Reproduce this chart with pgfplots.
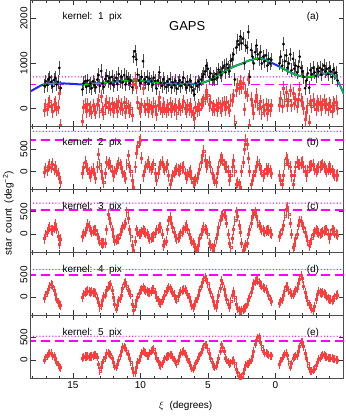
\documentclass[border=0pt]{standalone}
\usepackage{fontspec}
\setmainfont{Liberation Sans}
\usepackage{pgfplots}
\pgfplotsset{compat=1.18}
\usepackage{pgfplotstable}
\usetikzlibrary{calc}

\definecolor{resred}{RGB}{255,60,60}
\definecolor{fitblue}{RGB}{30,40,255}
\definecolor{fitgreen}{RGB}{0,215,0}
\definecolor{limmag}{RGB}{255,0,255}

% xi, black counts (k), residual (r), smoothed residuals for kernels 2..5 (b..e)
\pgfplotstableread{
x k r b c d e
17.1 500 -40 -20 -100 -20 0
17.0 600 60 60 -20 40 50
16.9 520 -20 20 50 100 100
16.8 640 100 110 120 170 140
16.7 690 150 140 160 240 160
16.6 590 40 90 100 290 150
16.5 490 -60 160 80 250 100
16.4 630 80 40 150 150 80
16.3 680 120 100 220 60 40
16.2 530 -30 10 120 -40 -40
16.1 590 30 -60 -40 -110 -100
16.0 900 340 -150 -220 -160 -150
15.9 450 -380 -240 -120 -190 -170
14.3 420 -280 -50 -50 0 40
14.2 560 30 80 0 60 60
14.1 600 70 200 50 100 80
14.0 480 -60 120 120 130 80
13.9 620 80 50 230 140 90
13.8 500 -40 -40 180 120 70
13.7 550 10 -100 90 110 80
13.6 450 -90 -20 50 120 80
13.5 600 60 50 70 110 100
13.4 520 -30 -60 100 100 110
13.3 470 -80 -150 80 80 120
13.2 640 90 100 0 -20 60
13.1 740 180 380 -100 -120 -100
13.0 500 -60 150 -150 -220 -240
12.9 830 260 0 -200 -180 -170
12.8 560 -10 -150 -210 -60 -60
12.7 480 -100 -250 -200 20 0
12.6 650 70 -50 -200 50 60
12.5 720 140 200 100 150 160
12.4 600 20 150 450 230 150
12.3 680 100 180 350 270 130
12.2 560 -30 120 250 290 120
12.1 700 110 0 100 150 30
12.0 520 -70 -100 -50 0 -60
11.9 610 20 -20 -150 -150 -140
11.8 680 80 50 -130 -260 -160
11.7 540 -60 120 -110 -180 -100
11.6 760 150 180 -100 -80 0
11.5 600 0 150 0 -20 100
11.4 700 90 100 100 50 200
11.3 580 -30 -20 150 200 280
11.2 740 130 -100 200 300 300
11.1 530 -80 -150 250 330 260
11.0 700 90 150 500 250 200
10.9 650 30 350 350 150 120
10.8 560 -60 100 100 100 50
10.7 620 0 0 -50 50 -50
10.6 470 -150 -200 -250 -150 -180
10.5 1150 530 -350 -350 -300 -280
10.4 1270 650 100 -150 -200 -280
10.3 1090 470 400 100 -80 -150
10.2 750 130 550 50 0 -50
10.1 620 0 650 0 80 0
10.0 560 -60 700 0 140 80
9.9 700 90 300 50 180 150
9.8 1050 440 -100 100 210 200
9.7 650 40 0 60 180 180
9.6 580 -20 100 20 150 150
9.5 700 100 150 0 120 100
9.4 540 -60 200 -50 110 100
9.3 660 60 100 -100 100 150
9.2 600 10 50 -80 130 200
9.1 520 -70 100 -60 160 230
9.0 680 100 150 -50 170 240
8.9 610 40 -50 30 100 150
8.8 440 -130 -200 100 0 50
8.7 620 60 -50 120 -70 -20
8.6 800 240 100 150 -120 -100
8.5 570 10 150 150 -140 -120
8.4 500 -60 200 0 -80 -80
8.3 650 100 100 -250 -20 -20
8.2 560 10 50 -200 50 30
8.1 480 -70 100 -150 120 70
8.0 600 60 150 100 180 80
7.9 520 -20 -100 300 210 100
7.8 650 110 -300 380 200 120
7.7 470 -70 -200 250 150 120
7.6 580 40 -100 150 100 60
7.5 520 -20 -30 50 50 0
7.4 610 70 20 -50 -20 -50
7.3 440 -100 50 -100 -60 -80
7.2 560 30 30 -80 20 0
7.1 620 90 0 -50 80 80
7.0 500 -30 50 0 130 150
6.9 580 50 80 50 140 180
6.8 680 150 100 100 160 200
6.7 530 0 -50 150 170 130
6.6 460 -70 -150 200 130 80
6.5 590 60 -80 120 60 20
6.4 520 -10 -30 0 0 -50
6.3 620 90 0 -100 -100 -120
6.2 470 -60 -150 -150 -180 -180
6.1 400 -130 -250 -200 -220 -200
6.0 310 -220 -230 -250 -180 -150
5.9 560 20 -200 -300 -100 -80
5.8 500 -40 -150 -350 -20 0
5.7 600 60 -50 -250 50 60
5.6 540 -10 50 -100 150 100
5.5 640 90 200 0 250 180
5.4 700 130 350 100 330 240
5.3 760 180 450 150 400 300
5.2 820 220 250 120 445 340
5.1 950 400 100 100 400 330
5.0 880 280 150 0 300 250
4.9 700 80 200 -200 180 150
4.8 780 140 100 -250 100 50
4.7 640 -10 -50 -300 0 -50
4.6 700 40 -150 -350 -100 -130
4.5 650 -30 -200 -250 -180 -160
4.4 760 60 -250 -100 -220 -140
4.3 680 -40 -50 0 -100 -50
4.2 860 110 100 150 50 50
4.1 800 30 250 300 200 200
4.0 740 -40 300 400 370 340
3.9 900 100 250 420 300 280
3.8 950 130 150 450 180 200
3.7 800 -30 100 400 50 50
3.6 980 130 100 250 -50 0
3.5 900 30 0 0 -150 -50
3.4 830 -50 -200 -200 -220 -80
3.3 1060 170 -100 -300 -100 -60
3.2 1100 190 100 -100 50 -20
3.1 1200 280 250 100 130 0
3.0 640 -300 0 300 0 -80
2.9 1350 400 -300 500 -150 -200
2.8 1500 530 -250 400 -250 -280
2.7 1420 440 -300 200 -300 -350
2.6 1600 600 -350 50 -335 -400
2.5 1450 460 0 -200 -300 -380
2.4 1550 550 200 -350 -280 -300
2.3 1000 -20 500 -300 -250 -200
2.2 1400 360 700 -250 -220 -120
2.1 1350 300 600 -200 -150 -80
2.0 1700 640 300 0 -50 -80
1.9 700 -380 0 100 0 -40
1.8 1300 210 -300 250 100 0
1.7 1150 60 -200 400 200 80
1.6 1000 -100 -100 450 300 200
1.5 1250 150 0 500 350 350
1.4 1400 300 100 400 400 450
1.3 1200 100 200 250 380 500
1.2 1100 0 150 200 330 520
1.1 1250 150 50 150 280 400
1.0 1000 -100 0 100 250 300
0.9 1150 50 -100 80 220 200
0.8 1050 -50 -50 50 190 160
0.7 1180 90 50 70 170 150
0.6 950 -120 0 100 100 130
0.5 1100 60 50 80 30 110
0.4 1000 -40 0 40 -50 100
0.3 1080 60 -50 0 -100 100
-0.3 1000 70 -100 -50 -140 -100
-0.4 1150 230 -200 0 -100 -30
-0.5 950 50 -300 100 -50 50
-0.6 1430 450 -100 200 50 100
-0.7 1050 180 150 400 150 130
-0.8 1180 350 300 550 240 150
-0.9 900 70 250 600 230 100
-1.0 1000 190 150 450 150 -50
-1.1 1200 400 100 250 100 -150
-1.2 850 60 -100 0 60 -80
-1.3 1100 330 -300 -300 50 50
-1.4 880 120 -100 -250 100 60
-1.5 950 200 100 -100 150 90
-1.6 800 50 200 0 200 100
-1.7 930 200 150 200 300 200
-1.8 1150 430 150 300 400 300
-1.9 900 190 180 280 480 400
-2.0 820 120 200 200 420 400
-2.1 700 10 100 150 250 300
-2.2 450 -250 0 50 100 150
-2.3 620 -80 -100 -50 0 50
-2.4 780 80 0 -150 -100 -80
-2.5 460 -300 100 -250 -170 -180
-2.6 850 150 120 -200 -200 -250
-2.7 760 50 130 -100 -260 -250
-2.8 900 190 150 0 -300 -220
-2.9 800 90 50 50 -200 -200
-3.0 720 -10 0 100 -50 -120
-3.1 880 150 50 60 60 -40
-3.2 820 80 100 20 130 20
-3.3 900 140 100 0 100 50
-3.4 750 -30 130 20 80 90
-3.5 860 90 150 50 100 120
-3.6 950 170 100 70 90 110
-3.7 820 30 50 90 50 80
-3.8 880 90 0 100 20 60
-3.9 760 -30 50 0 -20 50
-4.0 900 110 100 -100 -50 40
-4.1 820 50 50 0 -60 40
-4.2 700 -60 0 100 -80 40
-4.3 860 120 -50 80 -60 30
-4.4 780 80 -80 40 0 20
-4.5 800 140 -100 0 30 10
-4.6 620 10 -80 -20 50 0
}\gapsdata

% smooth model: blue over the whole range, green only where there are data
\pgfplotstableread{
x bl gr
18.1 384 nan
17.6 470 nan
17.2 530 530
16.8 548 548
16.4 556 556
16.0 558 558
15.9 558 558
15.5 552 nan
15.0 545 nan
14.6 536 nan
14.3 533 533
14.0 535 535
13.5 546 546
13.0 560 560
12.5 575 575
12.0 590 590
11.5 605 605
11.0 615 615
10.5 620 620
10.0 615 615
9.5 602 602
9.0 585 585
8.5 568 568
8.0 555 555
7.5 548 548
7.0 545 545
6.5 545 545
6.0 548 548
5.5 560 560
5.0 610 610
4.5 685 685
4.0 775 775
3.5 865 865
3.0 940 940
2.5 995 995
2.0 1060 1060
1.5 1100 1100
1.2 1110 1110
0.8 1085 1085
0.3 1015 1015
0.0 975 nan
-0.3 930 930
-0.6 880 880
-0.9 830 830
-1.2 788 788
-1.5 752 752
-1.8 722 722
-2.2 698 698
-2.6 702 702
-2.9 715 715
-3.2 740 740
-3.5 768 768
-3.8 786 786
-4.0 790 790
-4.2 770 770
-4.4 720 720
-4.6 620 620
-4.8 500 500
-5.1 300 300
}\fitdata

\tikzset{lab/.style={font=\fontsize{10}{12}\selectfont}}
\pgfplotsset{
  panel/.style={
    width=313pt, scale only axis,
    x dir=reverse, xmin=-5.05, xmax=18.1,
    xtick={0,5,10,15},
    minor xtick={-5,-4,...,18},
    tick align=inside,
    major tick length=5pt, minor tick length=2.5pt,
    axis line style={line width=1pt, black!70},
    every tick/.style={black!80, line width=0.6pt},
    yticklabel style={rotate=90, anchor=south},
    scaled y ticks=false,
    /pgf/number format/1000 sep={},
    /pgf/number format/assume math mode=true,
    tick label style={font=\fontsize{10}{12}\selectfont},
    unbounded coords=jump,
  },
  respts/.style={only marks, mark=square, mark size=1pt, resred,
    mark options={line width=0.6pt},
    error bars/y dir=both, error bars/y fixed=#1,
    error bars/error mark=none,
    error bars/error bar style={resred, line width=0.8pt}},
  dotlim/.style={draw=limmag, color=limmag, line width=1.4pt, line cap=round,
    dash pattern=on 0pt off 3.2pt, forget plot},
  dashlim/.style={draw=limmag, color=limmag, line width=1.4pt,
    dash pattern=on 9pt off 5pt, forget plot},
}

\begin{document}
\begin{tikzpicture}
\begin{axis}[panel, name=pa, height=126pt, ymin=-400, ymax=2400,
  ytick={0,1000,2000}, xticklabels={}]
  \addplot[dotlim] coordinates {(-5.05,700) (18.1,700)};
  \addplot[dashlim] coordinates {(-5.05,530) (18.1,530)};
  \addplot[respts=150] table[x=x, y=r] {\gapsdata};
  \addplot[only marks, mark=*, mark size=1.2pt, black,
    error bars/y dir=both, error bars/y fixed=150,
    error bars/error mark=none,
    error bars/error bar style={black!70, line width=0.8pt}]
    table[x=x, y=k] {\gapsdata};
  \addplot[fitblue, line width=2pt, smooth] table[x=x, y=bl] {\fitdata};
  \addplot[fitgreen, line width=1.3pt, smooth] table[x=x, y=gr] {\fitdata};
  \node[lab] at (axis description cs:0.196,0.871) {kernel:\ \ 1\ \ pix};
  \node[font=\fontsize{13}{15}\selectfont] at (axis description cs:0.5,0.80) {GAPS};
  \node[lab] at (axis description cs:0.902,0.868) {(a)};
\end{axis}
\begin{axis}[panel, name=pb, at={(pa.south west)}, anchor=north west,
  height=63pt, ymin=-400, ymax=1000, ytick={0,500}, xticklabels={}]
  \addplot[dotlim] coordinates {(-5.05,890) (18.1,890)};
  \addplot[dashlim] coordinates {(-5.05,698) (18.1,698)};
  \addplot[respts=130] table[x=x, y=b] {\gapsdata};
  \node[lab] at (axis description cs:0.196,0.73) {kernel:\ \ 2\ \ pix};
  \node[lab] at (axis description cs:0.902,0.73) {(b)};
\end{axis}
\begin{axis}[panel, name=pc, at={(pb.south west)}, anchor=north west,
  height=63pt, ymin=-400, ymax=1000, ytick={0,500}, xticklabels={}]
  \addplot[dotlim] coordinates {(-5.05,692) (18.1,692)};
  \addplot[dashlim] coordinates {(-5.05,536) (18.1,536)};
  \addplot[respts=115] table[x=x, y=c] {\gapsdata};
  \node[lab] at (axis description cs:0.196,0.72) {kernel:\ \ 3\ \ pix};
  \node[lab] at (axis description cs:0.902,0.72) {(c)};
\end{axis}
\begin{axis}[panel, name=pd, at={(pc.south west)}, anchor=north west,
  height=63pt, ymin=-400, ymax=1000, ytick={0,500}, xticklabels={}]
  \addplot[dotlim] coordinates {(-5.05,614) (18.1,614)};
  \addplot[dashlim] coordinates {(-5.05,491) (18.1,491)};
  \addplot[respts=100] table[x=x, y=d] {\gapsdata};
  \node[lab] at (axis description cs:0.196,0.72) {kernel:\ \ 4\ \ pix};
  \node[lab] at (axis description cs:0.902,0.72) {(d)};
\end{axis}
\begin{axis}[panel, name=pe, at={(pd.south west)}, anchor=north west,
  height=63pt, ymin=-400, ymax=1000, ytick={0,500}]
  \addplot[dotlim] coordinates {(-5.05,531) (18.1,531)};
  \addplot[dashlim] coordinates {(-5.05,426) (18.1,426)};
  \addplot[respts=90] table[x=x, y=e] {\gapsdata};
  \node[lab] at (axis description cs:0.196,0.72) {kernel:\ \ 5\ \ pix};
  \node[lab] at (axis description cs:0.902,0.72) {(e)};
\end{axis}
\node[lab] at ($(pe.south west)!0.495!(pe.south east)+(0,-28pt)$) {$\xi$\ \ (degrees)};
\node[lab, rotate=90] at ($(pa.north west)+(-22.7pt,-213pt)$) {star\ \ count\ \ (deg\textsuperscript{−2})};
\pgfresetboundingbox
\path[use as bounding box] ($(pe.south west)+(-31pt,-38pt)$) rectangle ($(pa.north east)+(2pt,0.5pt)$);
\end{tikzpicture}
\end{document}
